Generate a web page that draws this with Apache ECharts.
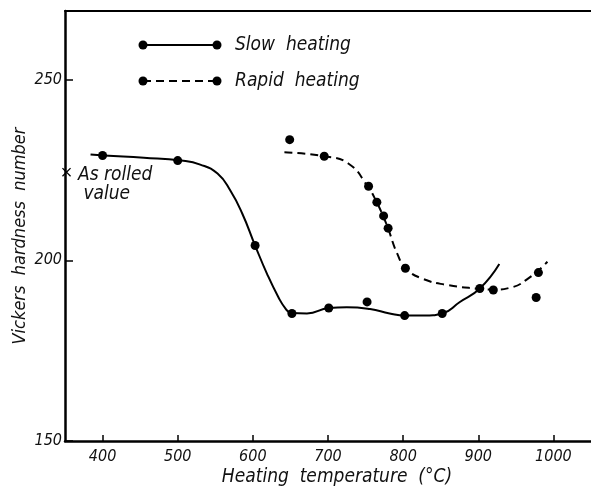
<!DOCTYPE html>
<html>
<head>
<meta charset="utf-8">
<script src="https://cdn.jsdelivr.net/npm/echarts@6/dist/echarts.min.js"></script>
<style>
  html, body { margin: 0; padding: 0; background: #fff; }
  #chart { width: 591px; height: 486px; }
</style>
</head>
<body>
<div id="chart"></div>
<script>
// tick labels
const xTicks = [400, 500, 600, 700, 800, 900, 1000];
const yTicks = [150, 200, 250];

// measured points
const slowX = [400, 500, 603, 652, 701, 802, 852, 902];
const slowY = [229, 227.6, 204.1, 185.3, 186.8, 184.7, 185.3, 192.2];
const rapidX = [649, 695, 754, 765, 774, 780, 803, 920, 980, 752, 977];
const rapidY = [233.4, 228.8, 220.5, 216.1, 212.3, 208.9, 197.8, 191.8, 196.6, 188.5, 189.7];

// hand drawn curves
const slowCurveX = [384, 402, 455, 505, 530, 553, 570, 586, 603, 619, 634, 643, 651, 672, 701, 725, 756, 782, 802, 827, 852, 875, 902, 928];
const slowCurveY = [229.3, 229.0, 228.4, 227.6, 226.5, 224.0, 219.3, 212.9, 204.1, 196.2, 189.8, 186.8, 185.4, 185.3, 186.8, 187.0, 186.5, 185.3, 184.7, 184.7, 185.3, 188.4, 192.2, 199.0];
const rapidCurveX = [642, 695, 727, 753, 765, 773, 780, 792, 804, 826, 858, 902, 920, 942, 968, 992];
const rapidCurveY = [229.9, 228.8, 226.8, 220.4, 216.0, 212.4, 208.8, 201.9, 197.7, 194.9, 193.2, 192.1, 191.9, 192.4, 195.2, 199.6];

// as rolled value
const rolledX = [352];
const rolledY = [224.4];

const zip = (xs, ys) => xs.map((x, i) => [x, ys[i]]);
const font = "'Liberation Sans Narrow', 'DejaVu Sans Condensed', sans-serif";
const crossPath = 'path://M1,0 L5,4 L9,0 L10,1 L6,5 L10,9 L9,10 L5,6 L1,10 L0,9 L4,5 L0,1 Z';
const dash = [8, 5];

const chart = echarts.init(document.getElementById('chart'));
chart.setOption({
  backgroundColor: '#fff',
  animation: false,
  grid: { left: 65, right: 0, top: 11, bottom: 45 },
  xAxis: [
    {
      type: 'value',
      min: 350, max: 1050,
      axisLine: { lineStyle: { color: '#000', width: 2.5 } },
      axisTick: { inside: true, length: 6, customValues: xTicks, lineStyle: { color: '#000', width: 1.5 } },
      axisLabel: {
        customValues: xTicks, margin: 8, color: '#111',
        fontSize: 16, fontStyle: 'italic', fontFamily: font,
        formatter: (v) => String(v)
      },
      splitLine: { show: false }
    },
    {
      // top frame line
      type: 'value',
      position: 'top',
      min: 350, max: 1050,
      axisLine: { lineStyle: { color: '#000', width: 2 } },
      axisTick: { show: false },
      axisLabel: { show: false },
      splitLine: { show: false }
    }
  ],
  yAxis: {
    type: 'value',
    min: 150, max: 269,
    axisLine: { lineStyle: { color: '#000', width: 2.5 } },
    axisTick: { inside: true, length: 8, customValues: yTicks, lineStyle: { color: '#000', width: 1.5 } },
    axisLabel: {
      customValues: yTicks, margin: 3, color: '#111',
      fontSize: 16, fontStyle: 'italic', fontFamily: font
    },
    splitLine: { show: false }
  },
  graphic: [
    // legend: slow heating
    { type: 'line', shape: { x1: 143, y1: 45, x2: 217, y2: 45 }, style: { stroke: '#000', lineWidth: 2 } },
    { type: 'circle', shape: { cx: 143, cy: 45, r: 4.5 }, style: { fill: '#000' } },
    { type: 'circle', shape: { cx: 217, cy: 45, r: 4.5 }, style: { fill: '#000' } },
    { type: 'text', x: 235, y: 45, style: { text: 'Slow  heating', fill: '#111', font: 'italic 19px ' + font, verticalAlign: 'middle' } },
    // legend: rapid heating
    { type: 'line', shape: { x1: 143, y1: 81, x2: 217, y2: 81 }, style: { stroke: '#000', lineWidth: 2, lineDash: dash } },
    { type: 'circle', shape: { cx: 143, cy: 81, r: 4.5 }, style: { fill: '#000' } },
    { type: 'circle', shape: { cx: 217, cy: 81, r: 4.5 }, style: { fill: '#000' } },
    { type: 'text', x: 235, y: 81, style: { text: 'Rapid  heating', fill: '#111', font: 'italic 19px ' + font, verticalAlign: 'middle' } },
    // axis titles
    { type: 'text', x: 20, y: 236, rotation: Math.PI / 2,
      style: { text: 'Vickers  hardness  number', fill: '#111', font: 'italic 18px ' + font, align: 'center', verticalAlign: 'middle' } },
    { type: 'text', x: 337, y: 477,
      style: { text: 'Heating  temperature  (°C)', fill: '#111', font: 'italic 19px ' + font, align: 'center', verticalAlign: 'middle' } }
  ],
  series: [
    {
      name: 'Slow heating curve',
      type: 'line',
      data: zip(slowCurveX, slowCurveY),
      smooth: 0.5,
      showSymbol: false,
      lineStyle: { color: '#000', width: 2 }
    },
    {
      name: 'Rapid heating curve',
      type: 'line',
      data: zip(rapidCurveX, rapidCurveY),
      smooth: 0.5,
      showSymbol: false,
      lineStyle: { color: '#000', width: 2, type: dash }
    },
    {
      name: 'Slow heating',
      type: 'scatter',
      data: zip(slowX, slowY),
      symbolSize: 9,
      itemStyle: { color: '#000', opacity: 1 }
    },
    {
      name: 'Rapid heating',
      type: 'scatter',
      data: zip(rapidX, rapidY),
      symbolSize: 9,
      itemStyle: { color: '#000', opacity: 1 }
    },
    {
      name: 'As rolled',
      type: 'scatter',
      data: zip(rolledX, rolledY),
      symbol: crossPath,
      symbolSize: 9,
      itemStyle: { color: '#000', opacity: 1 },
      label: {
        show: true,
        position: 'right',
        offset: [2, 12],
        formatter: 'As rolled\n value',
        color: '#111',
        fontSize: 19,
        lineHeight: 19,
        fontStyle: 'italic',
        fontFamily: font
      }
    }
  ]
});
</script>
</body>
</html>
